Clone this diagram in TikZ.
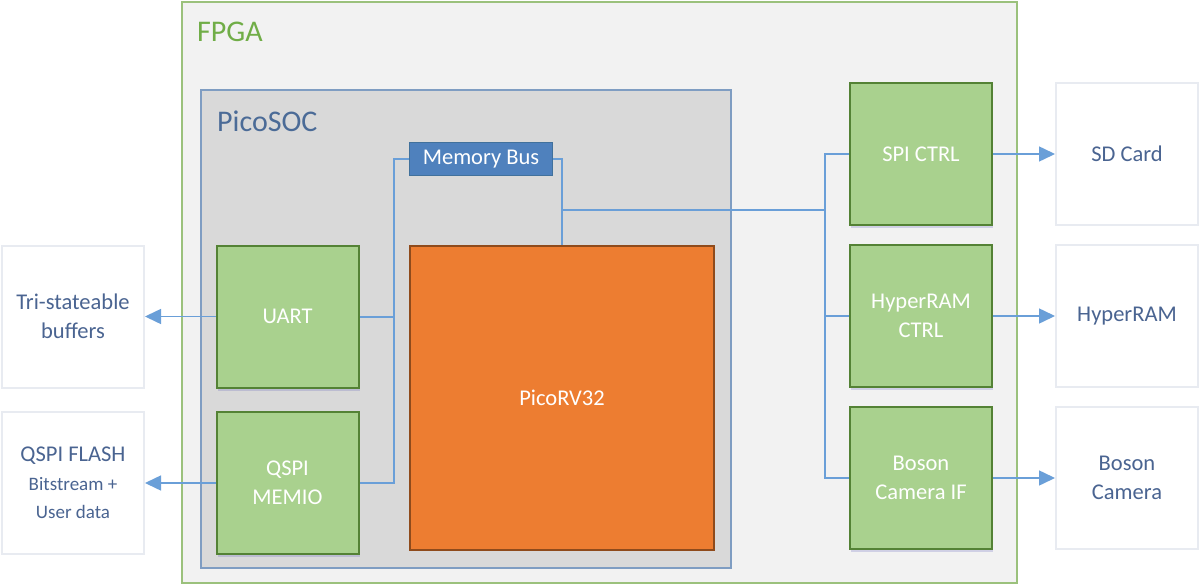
\documentclass[tikz,border=0pt]{standalone}
\usepackage{fontspec}
\setmainfont{Carlito}
\usetikzlibrary{positioning,arrows.meta,shadows}

\definecolor{fpgabg}{HTML}{F2F2F2}
\definecolor{fpgaline}{HTML}{9BC17C}
\definecolor{fpgatext}{HTML}{70AD47}
\definecolor{socbg}{HTML}{D9D9D9}
\definecolor{socline}{HTML}{7F9DC2}
\definecolor{soctext}{HTML}{4B6B97}
\definecolor{mbusfill}{HTML}{4F81BD}
\definecolor{mbusline}{HTML}{41719C}
\definecolor{blkfill}{HTML}{A9D18E}
\definecolor{blkline}{HTML}{548235}
\definecolor{cpufill}{HTML}{ED7D31}
\definecolor{cpuline}{HTML}{8F4B1C}
\definecolor{extline}{HTML}{E8EBF1}
\definecolor{exttext}{HTML}{4A6491}
\definecolor{busline}{HTML}{6A9FD8}

\newcommand{\boxfont}{\fontsize{22.5}{28.5}\selectfont}
\newcommand{\bigfont}{\fontsize{30}{34}\selectfont}

\begin{document}
\begin{tikzpicture}[x=1pt, y=-1pt, node distance={162pt},
  >={Triangle[length=16pt, width=15pt]},
  fpga/.style = {draw=fpgaline, fill=fpgabg, line width=1.5pt, minimum width=835pt, minimum height=581pt},
  soc/.style = {draw=socline, fill=socbg, line width=2.5pt, minimum width=530pt, minimum height=478pt},
  title/.style = {anchor=base west, inner sep=0pt, font=\bigfont},
  mbus/.style = {draw=mbusline, fill=mbusfill, line width=1.5pt, minimum width=143pt, minimum height=33pt, text=white, font=\boxfont, inner sep=0pt},
  cpu/.style = {draw=cpuline, fill=cpufill, line width=1.5pt, minimum width=304pt, minimum height=304pt, text=white, font=\boxfont},
  blk/.style = {draw=blkline, fill=blkfill, line width=2pt, minimum width=142pt, minimum height=142pt, text=white, align=center, font=\boxfont, drop shadow={shadow xshift=1pt, shadow yshift=-3pt, opacity=0.2, fill=blue!40!gray}},
  ext/.style = {draw=extline, fill=white, line width=2pt, minimum width=142pt, minimum height=142pt, text=exttext, align=center, font=\boxfont},
  bus/.style = {draw=busline, line width=2pt},
  link/.style = {draw=busline, line width=1.5pt, ->}]
\fill[white] (0,0) rectangle (1200,586);
\useasboundingbox (0,0) rectangle (1200,586);

% containers
\node[fpga] (fpga) at (599.5,292.5) {};
\node[title, text=fpgatext] (fpgalbl) at (197,42) {FPGA};
\node[soc] (soc) at (466,329) {};
\node[title, text=soctext] (soclbl) at (217,131) {PicoSOC};

% inside the soc
\node[mbus] (mbus) at (481,159) {Memory Bus};
\node[cpu] (cpu) at (562,398) {PicoRV32};
\node[blk] (uart) at (287.5,316.5) {UART};
\node[blk] (qspi) [below of=uart, node distance=166.5pt] {QSPI\\MEMIO};

% peripherals
\node[blk] (spi) at (921,154) {SPI CTRL};
\node[blk] (hram) [below of=spi] {HyperRAM\\CTRL};
\node[blk] (boson) [below of=hram] {Boson\\Camera IF};

% outside the fpga
\node[ext] (tri) [left of=uart, node distance=214.5pt] {Tri-stateable\\buffers};
\node[ext] (flash) [left of=qspi, node distance=214.5pt] {QSPI FLASH\\{\fontsize{19}{27}\selectfont Bitstream +}\\{\fontsize{19}{27}\selectfont User data}};
\node[ext] (sd) [right of=spi, node distance=206pt] {SD Card};
\node[ext] (ram) [right of=hram, node distance=206pt] {HyperRAM};
\node[ext] (cam) [right of=boson, node distance=206pt] {Boson\\Camera};

\coordinate (lj) at (394,159);
\coordinate (tap) at (562,210);
\coordinate (rj) at (825,210);

\draw[bus] (mbus.west) -- (lj) |- (uart.east);
\draw[bus] (lj) |- (qspi.east);
\draw[bus] (mbus.east) -| (cpu.north);
\draw[bus] (tap) -- (rj);
\draw[bus] (rj) |- (spi.west);
\draw[bus] (rj) |- (hram.west);
\draw[bus] (rj) |- (boson.west);
\draw[link] (uart) -- (tri);
\draw[link] (qspi) -- (flash);
\draw[link] (spi) -- (sd);
\draw[link] (hram) -- (ram);
\draw[link] (boson) -- (cam);
\end{tikzpicture}
\end{document}
